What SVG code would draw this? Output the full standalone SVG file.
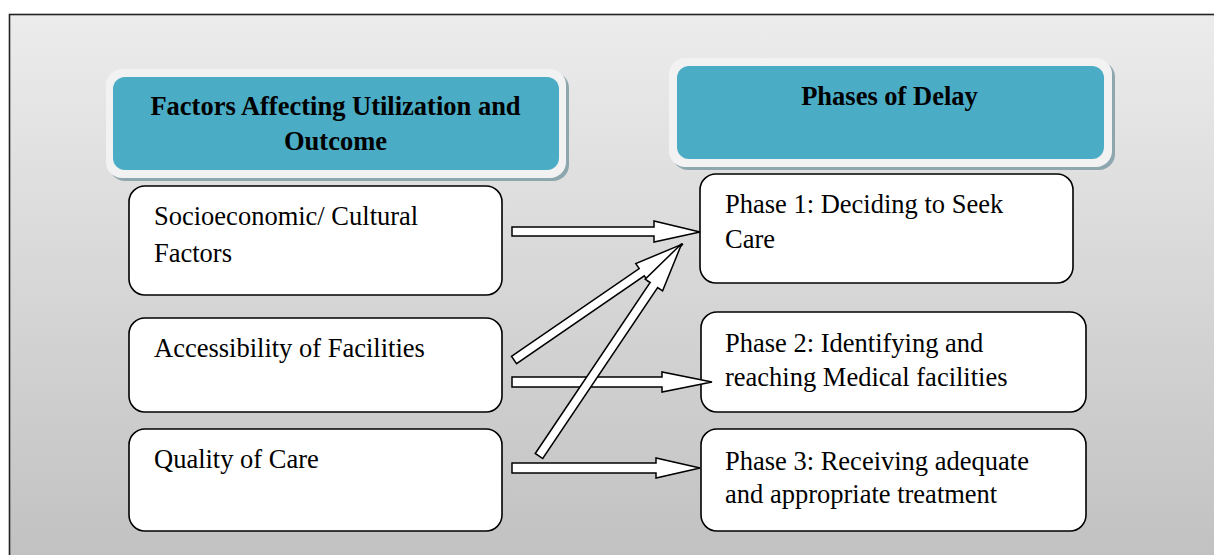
<svg xmlns="http://www.w3.org/2000/svg" width="1214" height="555" viewBox="0 0 1214 555">
<defs>
<linearGradient id="bg" x1="0" y1="0" x2="0" y2="1">
<stop offset="0" stop-color="#ececec"/>
<stop offset="1" stop-color="#c0c0c0"/>
</linearGradient>
</defs>
<style>
.frame{fill:url(#bg);stroke:#222;stroke-width:1.6}
.hshadow{fill:#8ea7ae}
.hwhite{fill:#f2f2f2}
.hteal{fill:#4aacc5}
text{font-family:'Liberation Serif','Times New Roman',Tinos,Times,'DejaVu Serif',serif;font-size:26.5px;fill:#000}
.htxt{font-weight:bold;text-anchor:middle}
.box{fill:#fff;stroke:#000;stroke-width:1.6}
.arrow{fill:#fff;stroke:#000;stroke-width:1.5;stroke-linejoin:miter}
</style>
<rect class="frame" x="9.5" y="14.5" width="1220" height="560"/>

<g id="header-factors">
<rect class="hshadow" x="109" y="72" width="460" height="109" rx="16"/>
<rect class="hwhite" x="106" y="69" width="460" height="109" rx="16"/>
<rect class="hteal" x="113" y="77" width="446" height="93" rx="12"/>
<text class="htxt" x="335.5" y="115" font-family="Liberation Serif, serif">Factors Affecting Utilization and</text>
<text class="htxt" x="335.5" y="150" font-family="Liberation Serif, serif">Outcome</text>
</g>

<g id="header-phases">
<rect class="hshadow" x="672" y="61" width="443" height="109" rx="16"/>
<rect class="hwhite" x="669" y="58" width="443" height="109" rx="16"/>
<rect class="hteal" x="677" y="66" width="427" height="93" rx="12"/>
<text class="htxt" x="889.5" y="105">Phases of Delay</text>
</g>

<g id="node-socio">
<rect class="box" x="129" y="186" width="373" height="109" rx="16"/>
<text x="154" y="225">Socioeconomic/ Cultural</text>
<text x="154" y="262">Factors</text>
</g>
<g id="node-access">
<rect class="box" x="129" y="318" width="373" height="94" rx="16"/>
<text x="154" y="357">Accessibility of Facilities</text>
</g>
<g id="node-quality">
<rect class="box" x="129" y="429" width="373" height="102" rx="16"/>
<text x="154" y="468">Quality of Care</text>
</g>

<g id="node-phase1">
<rect class="box" x="700" y="174" width="373" height="109" rx="16"/>
<text x="725" y="213">Phase 1: Deciding to Seek</text>
<text x="725" y="248">Care</text>
</g>
<g id="node-phase2">
<rect class="box" x="701" y="312" width="385" height="100" rx="16"/>
<text x="725" y="352">Phase 2: Identifying and</text>
<text x="725" y="386">reaching Medical facilities</text>
</g>
<g id="node-phase3">
<rect class="box" x="701" y="429" width="385" height="102" rx="16"/>
<text x="725" y="470">Phase 3: Receiving adequate</text>
<text x="725" y="503">and appropriate treatment</text>
</g>

<g id="connectors">
<path class="arrow" d="M512,227 H654 V221 L700,232 L654,242 V236 H512 Z"/>
<path class="arrow" d="M512,377 H662 V372 L712,382 L662,392 V387 H512 Z"/>
<path class="arrow" d="M512,463 H656 V458 L700,468 L656,478 V473 H512 Z"/>
<g transform="translate(514,360) rotate(-34.5)">
<path class="arrow" d="M0,-4.5 H155 V-10.5 L205,0 L155,10.5 V4.5 H0 Z"/>
</g>
<g transform="translate(539,456) rotate(-56.1)">
<path class="arrow" d="M0,-4.5 H206 V-10.5 L256,0 L206,10.5 V4.5 H0 Z"/>
</g>
</g>
</svg>
